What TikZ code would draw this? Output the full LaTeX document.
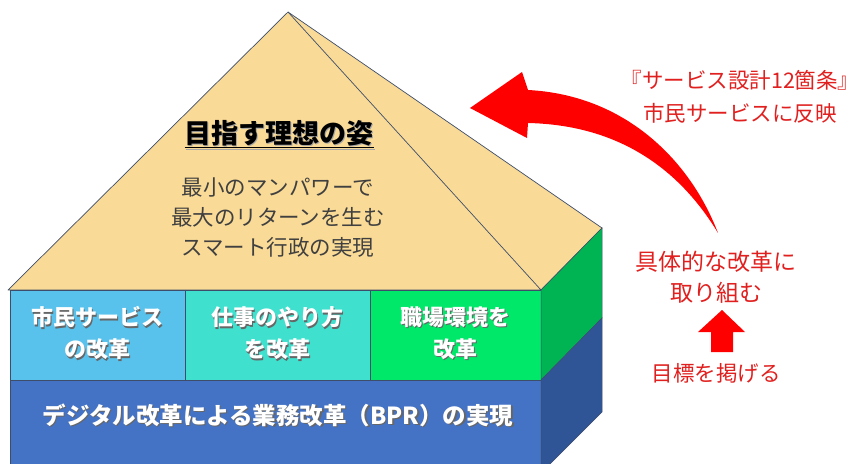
\documentclass[tikz,border=0pt]{standalone}
\usepackage{fontspec}
\setmainfont{Noto Sans CJK JP}
\definecolor{tan}{HTML}{F9DA96}
\definecolor{edge}{HTML}{3E4E6A}
\definecolor{lblue}{HTML}{58C2EC}
\definecolor{turq}{HTML}{40E0CE}
\definecolor{lgreen}{HTML}{00E86A}
\definecolor{dgreen}{HTML}{00B454}
\definecolor{fblue}{HTML}{4472C4}
\definecolor{sblue}{HTML}{2F5597}
\definecolor{redtxt}{HTML}{E0201F}
\definecolor{bodytxt}{HTML}{404040}
\newcommand\shtext[2][black!60]{\makebox[0pt][l]{\hspace{1.3pt}\raisebox{-1.3pt}{\color{#1}#2}}#2}
\tikzset{
  face/.style={draw=edge, line width=0.7pt, line join=round},
  boxtext/.style={text=white, font=\bfseries\fontsize{22}{32}\selectfont, align=center},
  redlabel/.style={text=redtxt, font=\fontsize{21.5}{33}\selectfont, align=center},
  bodylabel/.style={text=bodytxt, font=\fontsize{21.5}{30}\selectfont, align=center},
}
\begin{document}
\begin{tikzpicture}[x=1pt,y=-1pt]
\useasboundingbox (0,0) rectangle (861,463);
\clip (0,0) rectangle (861,463);
% pyramid
\coordinate (apex) at (288,12);
\coordinate (bl) at (8,290);
\coordinate (br) at (541,290);
\coordinate (bk) at (602,228);
\fill[tan] (bl) -- (apex) -- (bk) -- (br) -- cycle;
\draw[face] (bl) -- (apex) -- (br) -- cycle;
\draw[face] (apex) -- (bk) -- (br);
% boxes row
\fill[lblue, draw=edge, line width=0.5pt] (10,290) rectangle (185,380);
\fill[turq, draw=edge, line width=0.5pt] (185,290) rectangle (370,380);
\fill[lgreen, draw=edge, line width=0.5pt] (370,290) rectangle (541,380);
\fill[dgreen, draw=edge, line width=0.5pt] (541,290) -- (602,228) -- (602,318) -- (541,380) -- cycle;
% base block
\fill[fblue, draw=edge, line width=0.5pt] (10,380) rectangle (541,475);
\fill[sblue, draw=edge, line width=0.5pt] (541,380) -- (602,318) -- (602,412) -- (541,473) -- cycle;
% texts
\node[font=\bfseries\fontsize{27}{32}\selectfont] (title) at (279,135) {\shtext[black!35]{\underline{目指す理想の姿}}};
\node[bodylabel] (body) at (278,218) {最小のマンパワーで\\最大のリターンを生む\\スマート行政の実現};
\node[boxtext] (svc) at (97,334) {\shtext{市民サービス}\\\shtext{の改革}};
\node[boxtext] (work) at (277,334) {\shtext{仕事のやり方}\\\shtext{を改革}};
\node[boxtext] (env) at (455,334) {\shtext{職場環境を}\\\shtext{改革}};
\node[boxtext, font=\bfseries\fontsize{23.5}{30}\selectfont] (bpr) at (278,416) {\shtext{デジタル改革による業務改革（BPR）の実現}};
\node[redlabel] (reflect) at (740,97) {『サービス設計12箇条』\\市民サービスに反映};
\node[redlabel, font=\fontsize{23}{31}\selectfont] (act) at (716,277) {具体的な改革に\\取り組む};
\node[redlabel] (goal) at (716,373) {目標を掲げる};
% up arrow
\fill[red] (722,310) -- (745,332) -- (733,332) -- (733,352) -- (711,352) -- (711,332) -- (698,332) -- cycle;
% curved arrow
\fill[red] (718,233) .. controls (690,160) and (625,95) .. (528,90)
  -- (522,72) -- (470,108) -- (527,138) -- (528,123)
  .. controls (620,125) and (680,170) .. (718,233) -- cycle;
\end{tikzpicture}
\end{document}
